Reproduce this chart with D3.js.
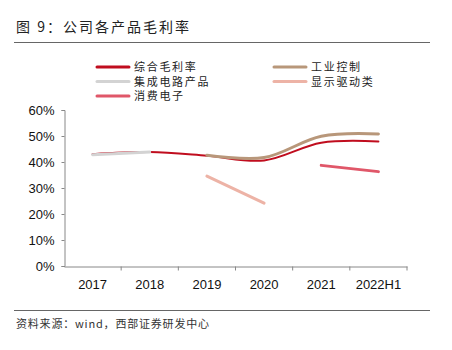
<!DOCTYPE html>
<html>
<head>
<meta charset="utf-8">
<script src="https://cdn.jsdelivr.net/npm/d3@7"></script>
<style>
  body { margin: 0; background: #fff; }
  svg { display: block; }
  text { font-family: "Liberation Sans", Arial, sans-serif; }
  .cjk { font-family: "Noto Sans CJK SC", sans-serif; }
</style>
</head>
<body>
<svg id="chart" width="452" height="350"></svg>
<script>
// categories and series (gross margin, %)
const years = ['2017', '2018', '2019', '2020', '2021', '2022H1'];
const overall = [43.0, 43.8, 42.4, 40.6, 47.4, 47.9];
const industrial = [null, null, 42.6, 41.7, 49.9, 50.8];
const icProducts = [42.8, 43.8, null, null, null, null];
const display = [null, null, 34.6, 24.2, null, null];
const consumer = [null, null, null, null, 38.7, 36.3];
const yTicks = [0, 10, 20, 30, 40, 50, 60];

let series = [
    {name: '综合毛利率', values: overall, color: '#c00d1e', width: 2},
    {name: '工业控制', values: industrial, color: '#b8977a', width: 3},
    {name: '集成电路产品', values: icProducts, color: '#d3d3d3', width: 3},
    {name: '显示驱动类', values: display, color: '#edb3a6', width: 3},
    {name: '消费电子', values: consumer, color: '#e05769', width: 3}
];

let svg = d3.select('#chart');

// title and rules
svg.append('text').attr('class', 'cjk')
    .attr('x', 16).attr('y', 32)
    .attr('font-size', 14).attr('letter-spacing', 2).attr('fill', '#222')
    .text('图 9：公司各产品毛利率');
svg.append('line').attr('x1', 14).attr('x2', 430).attr('y1', 42.5).attr('y2', 42.5)
    .attr('stroke', '#666').attr('stroke-width', 1);
svg.append('line').attr('x1', 14).attr('x2', 430).attr('y1', 310.5).attr('y2', 310.5)
    .attr('stroke', '#666').attr('stroke-width', 1);
svg.append('text').attr('class', 'cjk')
    .attr('x', 16).attr('y', 328)
    .attr('font-size', 11).attr('letter-spacing', 0.8).attr('fill', '#333')
    .text('资料来源：wind，西部证券研发中心');

// scales
let x = d3.scaleBand().domain(years).range([64, 407]);
let y = d3.scaleLinear().domain([0, 60]).range([266, 110]);

// axes
let yAxis = svg.append('g').attr('transform', 'translate(64.5,0)')
    .call(d3.axisLeft(y).tickValues(yTicks).tickSize(3).tickFormat(d => d + '%'));
yAxis.selectAll('text').attr('font-size', 13).attr('fill', '#111').attr('x', -10);

let xAxis = svg.append('g').attr('transform', 'translate(0,266.5)')
    .call(d3.axisBottom(x).tickSize(0));
xAxis.selectAll('text').attr('font-size', 13).attr('fill', '#111').attr('dy', 0).attr('y', 22);
// category separators
xAxis.selectAll('.sep').data(years).enter().append('line')
    .attr('x1', d => x(d) + x.bandwidth()).attr('x2', d => x(d) + x.bandwidth())
    .attr('y1', 0).attr('y2', 4).attr('stroke', '#888');
svg.selectAll('.domain, .tick line').attr('stroke', '#888');

// lines
let line = d3.line()
    .defined(d => d.v != null)
    .x(d => x(d.year) + x.bandwidth() / 2)
    .y(d => y(d.v))
    .curve(d3.curveCatmullRom.alpha(0.5));

// draw order: overall under the grey IC line
let drawOrder = [0, 1, 3, 4, 2];
drawOrder.forEach(i => {
    let s = series[i];
    svg.append('path')
        .datum(years.map((yr, j) => ({year: yr, v: s.values[j]})))
        .attr('d', line)
        .attr('fill', 'none')
        .attr('stroke', s.color)
        .attr('stroke-width', s.width)
        .attr('stroke-linecap', 'round');
});

// legend
let legendPos = [[97, 67], [274, 67], [97, 81.5], [274, 81.5], [97, 96]];
series.forEach((s, i) => {
    let g = svg.append('g').attr('transform', 'translate(' + legendPos[i][0] + ',' + legendPos[i][1] + ')');
    g.append('line').attr('x1', 0).attr('x2', 32).attr('y1', 0).attr('y2', 0)
        .attr('stroke', s.color).attr('stroke-width', 3).attr('stroke-linecap', 'round');
    g.append('text').attr('class', 'cjk')
        .attr('x', 37).attr('y', 4)
        .attr('font-size', 11).attr('letter-spacing', 1.7).attr('fill', '#222')
        .text(s.name);
});
</script>
</body>
</html>
